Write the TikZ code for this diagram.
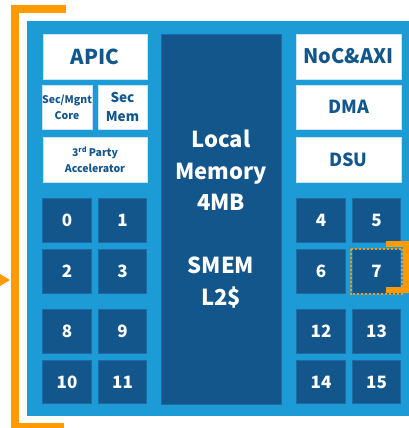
\documentclass[tikz,border=0pt]{standalone}
\usepackage{fontspec}
\setmainfont{Noto Sans CJK KR}
\definecolor{board}{RGB}{28,155,215}
\definecolor{deep}{RGB}{18,86,140}
\definecolor{deepedge}{RGB}{30,106,163}
\definecolor{boxedge}{RGB}{200,228,243}
\definecolor{accent}{RGB}{255,154,0}
\newcommand\fsz[2]{\fontsize{#1}{#2}\selectfont\bfseries}
\tikzset{
  blk/.style={inner sep=0pt, outer sep=0pt, align=center},
  wbox/.style={blk, fill=white, draw=boxedge, line width=0.6pt, text=deep},
  dbox/.style={blk, fill=deep, draw=deepedge, line width=0.6pt, text=white},
  tile/.style={dbox, minimum width=48.5, minimum height=43.5, font=\fsz{17}{20}},
  callout/.style={draw=accent, line width=#1, line join=miter},
}
\begin{document}
\begin{tikzpicture}[x=1pt,y=-1pt]
\useasboundingbox (0,0) rectangle (409,428);
\clip (0,0) rectangle (409,428);
% chip outline
\fill[board] (27,21) rectangle (412,416);
% left column
\node[wbox, minimum width=104, minimum height=45, font=\fsz{20.5}{24}] (apic) at (95,56.5) {APIC};
\node[wbox, minimum width=48, minimum height=44, font=\fsz{10.5}{16}] (secmgnt) at (67,107) {Sec/Mgnt\\Core};
\node[wbox, minimum width=49, minimum height=44, font=\fsz{13.5}{19}] (secmem) at (122.5,107) {Sec\\Mem};
\node[wbox, minimum width=104, minimum height=45, font=\fsz{10.5}{15.5}] (accel) at (95,159.5) {3\textsuperscript{rd}\,Party\\Accelerator};
% left cores
\node[tile] (c0)  at (67,220.5)   {0};
\node[tile] (c1)  at (122.5,220.5) {1};
\node[tile] (c2)  at (67,271.5)   {2};
\node[tile] (c3)  at (122.5,271.5) {3};
\node[tile] (c8)  at (67,331.5)   {8};
\node[tile] (c9)  at (122.5,331.5) {9};
\node[tile] (c10) at (67,382)     {10};
\node[tile] (c11) at (122.5,382)   {11};
% shared memory
\node[dbox, minimum width=120, minimum height=370, font=\fsz{22}{31.5}] (mem) at (221,219)
  {Local\\Memory\\4MB\\[31.5pt]SMEM\\L2\$};
% right column
\node[wbox, minimum width=105, minimum height=45, font=\fsz{20}{24}] (noc) at (348.5,56.5) {NoC\&AXI};
\node[wbox, minimum width=105, minimum height=44, font=\fsz{18}{22}] (dma) at (348.5,107) {DMA};
\node[wbox, minimum width=105, minimum height=45, font=\fsz{18}{22}] (dsu) at (348.5,159.5) {DSU};
% right cores
\node[tile] (c4)  at (321,220.5)   {4};
\node[tile] (c5)  at (376.5,220.5) {5};
\node[tile] (c6)  at (321,271.5)   {6};
\node[tile] (c7)  at (376.5,271.5) {7};
\node[tile] (c12) at (321,331.5)   {12};
\node[tile] (c13) at (376.5,331.5) {13};
\node[tile] (c14) at (321,382)     {14};
\node[tile] (c15) at (376.5,382)   {15};
% highlighted core and its callout bracket
\draw[accent, line width=1.8pt, dash pattern=on 2pt off 2pt]
  ([shift={(-1.5,-1)}]c7.north west) rectangle ([shift={(1.5,1)}]c7.south east);
\draw[callout=6pt] (386,243.5) -- (406,243.5) -- (406,290) -- (386,290);
% enlarged view bracket
\draw[callout=8pt] (66,9) -- (15,9) -- (15,427) -- (64,427);
\coordinate (tip) at (10,280);
\fill[accent] (0,274) -- (tip) -- (0,286) -- cycle;
\end{tikzpicture}
\end{document}
